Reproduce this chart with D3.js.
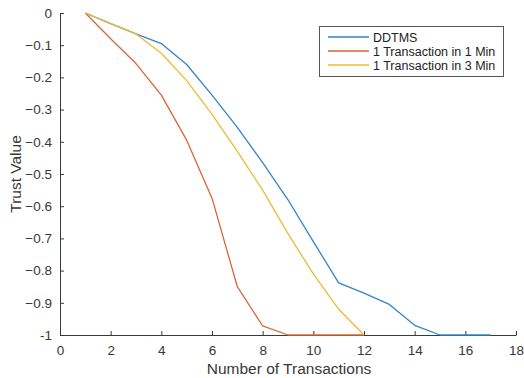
<!DOCTYPE html>
<html>
<head>
<meta charset="utf-8">
<script src="https://cdn.jsdelivr.net/npm/d3@7/dist/d3.min.js"></script>
<style>
  html, body { margin: 0; padding: 0; background: #fff; }
  svg { display: block; font-family: "Liberation Sans", Arial, sans-serif; }
</style>
</head>
<body>
<svg id="chart" width="524" height="378"></svg>
<script>
// Trust value decay per transaction count
const ddtms   = [[1,0],[2,-0.033],[3,-0.065],[4,-0.095],[5,-0.16],[6,-0.255],[7,-0.355],[8,-0.465],[9,-0.58],[10,-0.71],[11,-0.838],[12,-0.87],[13,-0.905],[14,-0.97],[15,-1],[16,-1],[17,-1]];
const oneMin  = [[1,0],[2,-0.08],[3,-0.157],[4,-0.255],[5,-0.395],[6,-0.575],[7,-0.85],[8,-0.972],[9,-1],[10,-1],[11,-1],[12,-1]];
const threeMin = [[1,0],[2,-0.033],[3,-0.065],[4,-0.125],[5,-0.21],[6,-0.315],[7,-0.43],[8,-0.55],[9,-0.685],[10,-0.81],[11,-0.92],[12,-1]];

const seriesNames = ["DDTMS", "1 Transaction in 1 Min", "1 Transaction in 3 Min"];
const seriesData = [ddtms, oneMin, threeMin];
const seriesColors = ["#2f86c8", "#db6535", "#ecbb35"];

const xTicks = [0,2,4,6,8,10,12,14,16,18];
const yTicks = [0,-0.1,-0.2,-0.3,-0.4,-0.5,-0.6,-0.7,-0.8,-0.9,-1];

const svg = d3.select("#chart");
const plotLeft = 60, plotRight = 516, plotTop = 13, plotBottom = 335;

const x = d3.scaleLinear().domain([0, 18]).range([plotLeft, plotRight]);
const y = d3.scaleLinear().domain([-1, 0]).range([plotBottom, plotTop]);

const axisColor = "#3a3a3a";
const textColor = "#383838";

// x axis with inward ticks
const gx = svg.append("g").attr("transform", `translate(0,${plotBottom})`)
  .call(d3.axisBottom(x).tickValues(xTicks).tickSizeInner(-4).tickSizeOuter(0).tickPadding(10)
    .tickFormat(d3.format("d")));
gx.select(".domain").attr("stroke", axisColor);
gx.selectAll(".tick line").attr("stroke", axisColor);
gx.selectAll(".tick text").attr("fill", textColor).attr("font-size", 13.5)
  .attr("font-family", "Liberation Sans, Arial, sans-serif");

// y axis with inward ticks
const gy = svg.append("g").attr("transform", `translate(${plotLeft},0)`)
  .call(d3.axisLeft(y).tickValues(yTicks).tickSizeInner(-4).tickSizeOuter(0).tickPadding(8)
    .tickFormat(d => d === 0 ? "0" : d === -1 ? "-1" : d3.format(".1f")(d)));
gy.select(".domain").attr("stroke", axisColor);
gy.selectAll(".tick line").attr("stroke", axisColor);
gy.selectAll(".tick text").attr("fill", textColor).attr("font-size", 13.5)
  .attr("font-family", "Liberation Sans, Arial, sans-serif");

// axis titles
svg.append("text").attr("x", (plotLeft + plotRight) / 2 + 1).attr("y", 374)
  .attr("text-anchor", "middle").attr("fill", textColor).attr("font-size", 15.5)
  .text("Number of Transactions");
svg.append("text").attr("transform", `translate(21,${(plotTop + plotBottom) / 2}) rotate(-90)`)
  .attr("text-anchor", "middle").attr("fill", textColor).attr("font-size", 15.5)
  .text("Trust Value");

// series lines
const line = d3.line().x(d => x(d[0])).y(d => y(d[1]));
seriesData.forEach((s, i) => {
  svg.append("path").datum(s).attr("d", line)
    .attr("fill", "none").attr("stroke", seriesColors[i]).attr("stroke-width", 1.3)
    .attr("stroke-linejoin", "round");
});

// legend
const lg = svg.append("g");
lg.append("rect").attr("x", 319.5).attr("y", 26.5).attr("width", 184).attr("height", 50)
  .attr("fill", "#fff").attr("stroke", "#555").attr("stroke-width", 1);
seriesNames.forEach((n, i) => {
  const yy = 37 + i * 14;
  lg.append("line").attr("x1", 328).attr("x2", 369).attr("y1", yy).attr("y2", yy)
    .attr("stroke", seriesColors[i]).attr("stroke-width", 1.3);
  lg.append("text").attr("x", 373).attr("y", yy + 4.5).attr("font-size", 12.5)
    .attr("fill", "#222").text(n);
});
</script>
</body>
</html>
